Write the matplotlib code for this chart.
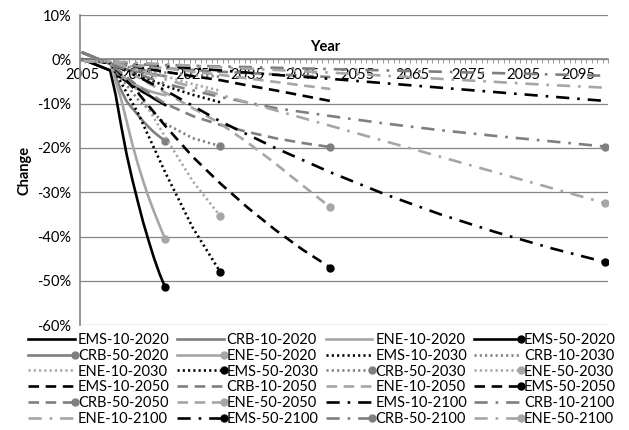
import numpy as np
import matplotlib.pyplot as plt
from matplotlib.lines import Line2D
from matplotlib.legend_handler import HandlerLine2D
from matplotlib.ticker import FixedLocator, FuncFormatter

plt.rcParams['font.family'] = ['Lato', 'DejaVu Sans']

# years for each end-year group
years_2020 = [2005, 2010, 2011, 2012, 2013, 2014, 2015, 2016, 2017, 2018, 2019, 2020]
years_2030 = [2005, 2010, 2015, 2020, 2025, 2030]
years_2050 = [2005, 2010, 2015, 2020, 2025, 2030, 2035, 2040, 2045, 2050]
years_2100 = [2005, 2010, 2020, 2030, 2040, 2050, 2060, 2070, 2080, 2090, 2100]

# change (%)
ems_10_2020 = [0.0, -2.5, -3.4, -4.2, -5.0, -5.8, -6.6, -7.4, -8.1, -8.9, -9.6, -10.3]
crb_10_2020 = [1.5, -1.0, -1.6, -2.0, -2.3, -2.6, -2.8, -3.0, -3.2, -3.4, -3.6, -3.8]
ene_10_2020 = [-0.3, -0.8, -2.4, -3.6, -4.6, -5.4, -6.0, -6.6, -7.1, -7.5, -7.8, -8.1]
ems_50_2020 = [0.0, -2.5, -8.0, -15.0, -21.5, -27.0, -32.0, -36.8, -41.0, -45.0, -48.5, -51.5]
crb_50_2020 = [1.5, -1.0, -4.0, -7.0, -9.5, -11.0, -12.5, -14.0, -15.3, -16.5, -17.5, -18.4]
ene_50_2020 = [-0.3, -0.8, -5.0, -9.0, -14.0, -19.0, -23.5, -27.5, -31.2, -34.5, -37.6, -40.6]

ems_10_2030 = [0.0, -0.8, -3.5, -6.0, -8.0, -9.7]
crb_10_2030 = [1.5, -1.0, -2.2, -3.0, -3.5, -3.9]
ene_10_2030 = [-0.3, -0.6, -2.0, -3.8, -5.6, -7.1]
ems_50_2030 = [0.0, -0.8, -12.0, -25.5, -38.0, -48.0]
crb_50_2030 = [1.5, -1.0, -9.0, -14.5, -17.8, -19.6]
ene_50_2030 = [-0.3, -0.6, -7.0, -17.5, -27.5, -35.4]

ems_10_2050 = [0.0, -0.8, -1.8, -2.8, -3.8, -4.7, -5.9, -7.0, -8.2, -9.4]
crb_10_2050 = [1.5, -1.0, -1.6, -2.0, -2.4, -2.8, -3.1, -3.4, -3.7, -4.0]
ene_10_2050 = [-0.3, -0.6, -1.3, -2.0, -2.8, -3.5, -4.3, -5.1, -5.9, -6.7]
ems_50_2050 = [0.0, -0.8, -7.5, -15.0, -22.0, -28.0, -33.5, -38.5, -43.0, -47.0]
crb_50_2050 = [1.5, -1.0, -6.0, -10.0, -12.8, -14.8, -16.4, -17.8, -18.9, -19.8]
ene_50_2050 = [-0.3, -0.6, -4.0, -7.5, -11.0, -14.5, -18.8, -23.5, -28.5, -33.4]

ems_10_2100 = [0.0, -0.5, -1.5, -2.5, -3.5, -4.4, -5.4, -6.4, -7.4, -8.4, -9.4]
crb_10_2100 = [1.5, -1.0, -1.3, -1.6, -1.9, -2.2, -2.5, -2.8, -3.1, -3.4, -3.7]
ene_10_2100 = [-0.3, -0.5, -1.1, -1.8, -2.4, -3.0, -3.7, -4.4, -5.1, -5.8, -6.4]
ems_50_2100 = [0.0, -0.8, -7.0, -14.0, -20.0, -25.5, -30.5, -35.0, -39.0, -42.6, -45.8]
crb_50_2100 = [1.5, -1.0, -5.5, -8.5, -11.0, -12.8, -14.5, -16.0, -17.3, -18.5, -19.7]
ene_50_2100 = [-0.3, -0.5, -4.5, -8.0, -11.5, -15.0, -18.5, -22.0, -25.5, -29.0, -32.5]

series = [
    ("EMS-10-2020", years_2020, ems_10_2020), ("CRB-10-2020", years_2020, crb_10_2020),
    ("ENE-10-2020", years_2020, ene_10_2020), ("EMS-50-2020", years_2020, ems_50_2020),
    ("CRB-50-2020", years_2020, crb_50_2020), ("ENE-50-2020", years_2020, ene_50_2020),
    ("EMS-10-2030", years_2030, ems_10_2030), ("CRB-10-2030", years_2030, crb_10_2030),
    ("ENE-10-2030", years_2030, ene_10_2030), ("EMS-50-2030", years_2030, ems_50_2030),
    ("CRB-50-2030", years_2030, crb_50_2030), ("ENE-50-2030", years_2030, ene_50_2030),
    ("EMS-10-2050", years_2050, ems_10_2050), ("CRB-10-2050", years_2050, crb_10_2050),
    ("ENE-10-2050", years_2050, ene_10_2050), ("EMS-50-2050", years_2050, ems_50_2050),
    ("CRB-50-2050", years_2050, crb_50_2050), ("ENE-50-2050", years_2050, ene_50_2050),
    ("EMS-10-2100", years_2100, ems_10_2100), ("CRB-10-2100", years_2100, crb_10_2100),
    ("ENE-10-2100", years_2100, ene_10_2100), ("EMS-50-2100", years_2100, ems_50_2100),
    ("CRB-50-2100", years_2100, crb_50_2100), ("ENE-50-2100", years_2100, ene_50_2100),
]

colors = {"EMS": "#000000", "CRB": "#7f7f7f", "ENE": "#a6a6a6"}
styles = {"2020": "-", "2030": (0, (0.8, 1.2)), "2050": (0, (4, 2.5)),
          "2100": (0, (5, 3, 1, 3))}


# legend entry: line with the marker only at its right end (like Excel)
class EndMarkerHandler(HandlerLine2D):
    def create_artists(self, legend, orig_handle, xdescent, ydescent, width, height,
                       fontsize, trans):
        y = (height - ydescent) / 2
        x0, x1 = -xdescent, width - xdescent
        ln = Line2D([x0, x1], [y, y])
        self.update_prop(ln, orig_handle, legend)
        ln.set_marker("")
        ln.set_markevery(None)
        ln.set_transform(trans)
        arts = [ln]
        if orig_handle.get_marker() not in (None, "None", ""):
            mk = Line2D([x1], [y], color=orig_handle.get_color(), ls="none",
                        marker=orig_handle.get_marker(),
                        markersize=orig_handle.get_markersize())
            mk.set_transform(trans)
            arts.append(mk)
        return arts


fig = plt.figure(figsize=(6.29, 4.30), dpi=100)
ax = fig.add_axes([0.127, 0.244, 0.84, 0.721])

handles = []
for name, yrs, vals in series:
    sec, scen, end = name.split("-")
    h, = ax.plot(yrs, np.array(vals) / 100, color=colors[sec], ls=styles[end], lw=1.9,
                 marker="o" if scen == "50" else None, markersize=5, markevery=[-1],
                 label=name, dash_capstyle="butt")
    handles.append(h)

ax.set_xlim(2004.5, 2100.5)
ax.set_ylim(-0.6, 0.1)
ax.yaxis.set_major_locator(FixedLocator(np.round(np.arange(-0.6, 0.11, 0.1), 1)))
ax.yaxis.set_major_formatter(FuncFormatter(lambda v, p: f"{round(v * 100):d}%"))
ax.grid(axis="y", color="#868686", lw=0.9)
ax.set_axisbelow(True)

ax.set_xticks(np.arange(2005, 2100, 10))
ax.set_xticks(np.arange(2004.5, 2101, 1), minor=True)
ax.spines["bottom"].set_position(("data", 0))
for s in ["top", "right"]:
    ax.spines[s].set_visible(False)
for s in ["left", "bottom"]:
    ax.spines[s].set_color("#868686")
    ax.spines[s].set_linewidth(1.2)
ax.tick_params(axis="x", which="major", length=0, pad=6, labelsize=10.5)
ax.tick_params(axis="x", which="minor", length=3, color="#868686")
ax.tick_params(axis="y", length=0, pad=6, labelsize=10.5)

ax.text(2049, 0.027, "Year", fontsize=10.5, fontweight="bold", ha="center", va="center")
ax.set_ylabel("Change", fontsize=10.5, fontweight="bold", labelpad=4)

# Excel fills the legend row by row; matplotlib fills by column
ncol, nrow = 4, 6
order = [r * ncol + c for c in range(ncol) for r in range(nrow)]
fig.legend([handles[i] for i in order], [series[i][0] for i in order],
           handler_map={Line2D: EndMarkerHandler()},
           loc="lower center", bbox_to_anchor=(0.512, -0.014), ncol=ncol, frameon=False,
           fontsize=10.5, handlelength=3.2, handletextpad=0.2, columnspacing=0.5,
           labelspacing=0.12, borderpad=0.2)

fig.savefig("out.png", dpi=100)
